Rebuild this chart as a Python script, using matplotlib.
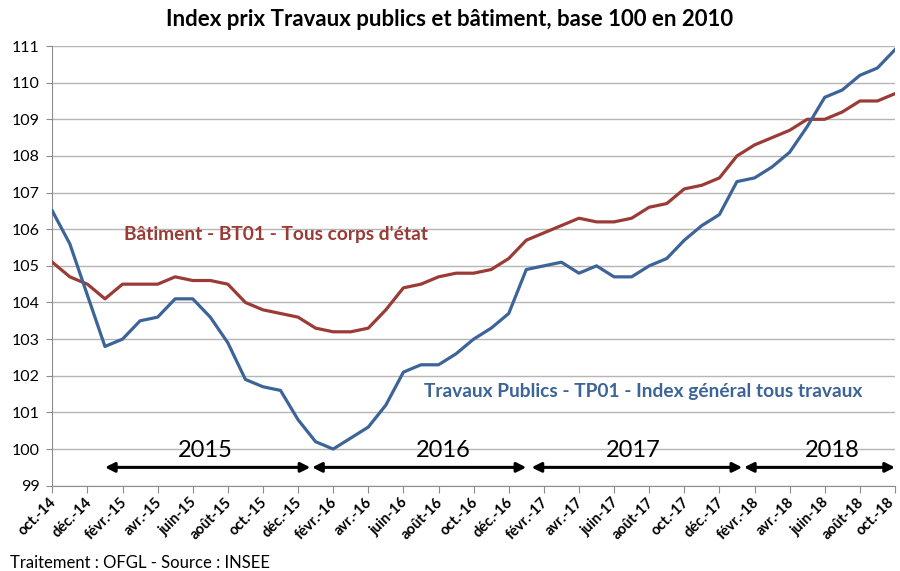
import matplotlib
matplotlib.use("Agg")
import matplotlib.pyplot as plt
from matplotlib.transforms import ScaledTranslation

plt.rcParams['font.family'] = ['Lato', 'DejaVu Sans']

months = ["oct.-14", "nov.-14", "déc.-14", "janv.-15", "févr.-15", "mars-15", "avr.-15", "mai-15",
          "juin-15", "juil.-15", "août-15", "sept.-15", "oct.-15", "nov.-15", "déc.-15",
          "janv.-16", "févr.-16", "mars-16", "avr.-16", "mai-16", "juin-16", "juil.-16", "août-16",
          "sept.-16", "oct.-16", "nov.-16", "déc.-16", "janv.-17", "févr.-17", "mars-17", "avr.-17",
          "mai-17", "juin-17", "juil.-17", "août-17", "sept.-17", "oct.-17", "nov.-17", "déc.-17",
          "janv.-18", "févr.-18", "mars-18", "avr.-18", "mai-18", "juin-18", "juil.-18", "août-18",
          "sept.-18", "oct.-18"]

tp01 = [106.5, 105.6, 104.2, 102.8, 103.0, 103.5, 103.6, 104.1, 104.1, 103.6, 102.9, 101.9,
        101.7, 101.6, 100.8, 100.2, 100.0, 100.3, 100.6, 101.2, 102.1, 102.3, 102.3, 102.6,
        103.0, 103.3, 103.7, 104.9, 105.0, 105.1, 104.8, 105.0, 104.7, 104.7, 105.0, 105.2,
        105.7, 106.1, 106.4, 107.3, 107.4, 107.7, 108.1, 108.8, 109.6, 109.8, 110.2, 110.4, 110.9]

bt01 = [105.1, 104.7, 104.5, 104.1, 104.5, 104.5, 104.5, 104.7, 104.6, 104.6, 104.5, 104.0,
        103.8, 103.7, 103.6, 103.3, 103.2, 103.2, 103.3, 103.8, 104.4, 104.5, 104.7, 104.8,
        104.8, 104.9, 105.2, 105.7, 105.9, 106.1, 106.3, 106.2, 106.2, 106.3, 106.6, 106.7,
        107.1, 107.2, 107.4, 108.0, 108.3, 108.5, 108.7, 109.0, 109.0, 109.2, 109.5, 109.5, 109.7]

years = ["2015", "2016", "2017", "2018"]
year_label_x = [8.7, 22.25, 33.1, 44.45]
year_span_start = [3.0, 14.8, 27.3, 39.4]
year_span_end = [14.7, 27.0, 39.3, 48.0]

RED = "#9B3B36"
BLUE = "#3C6499"

fig = plt.figure(figsize=(9, 5.71), dpi=100)
ax = fig.add_axes([0.0581, 0.1494, 0.9363, 0.77])

x = list(range(len(months)))
ax.plot(x, bt01, color=RED, lw=2.3, solid_joinstyle='round', zorder=3)
ax.plot(x, tp01, color=BLUE, lw=2.3, solid_joinstyle='round', zorder=3)

ax.set_xlim(0, len(months) - 1)
ax.set_ylim(99, 111)
ax.set_yticks(range(99, 112))
ax.yaxis.grid(True, color="#B5B5B5", lw=1.0)
ax.set_axisbelow(True)

ax.set_xticks(x[::2])
ax.set_xticklabels(months[::2], rotation=45, ha='right', rotation_mode='anchor',
                   fontsize=10.5, fontweight='bold')
ax.tick_params(axis='x', length=5, color="#8C8C8C", pad=2)
ax.tick_params(axis='y', length=4, color="#8C8C8C", labelsize=11.5, pad=5)
labels = ax.get_xticklabels()
for i, lbl in enumerate(labels):
    dx = -3 if i < len(labels) - 1 else -8
    lbl.set_transform(lbl.get_transform() + ScaledTranslation(dx / 100, 0, fig.dpi_scale_trans))

for s in ['top', 'right']:
    ax.spines[s].set_visible(False)
for s in ['left', 'bottom']:
    ax.spines[s].set_color("#8C8C8C")

for lab, lx, s, e in zip(years, year_label_x, year_span_start, year_span_end):
    ax.annotate("", xy=(e, 99.5), xytext=(s, 99.5),
                arrowprops=dict(arrowstyle='<|-|>', color='black', lw=2.2,
                                mutation_scale=14, shrinkA=0, shrinkB=0), zorder=4)
    ax.text(lx, 99.97, lab, ha='center', va='center', fontsize=17, color='black', zorder=4)

ax.text(4.1, 105.85, "Bâtiment - BT01 - Tous corps d'état", color=RED, fontsize=13.8,
        fontweight='bold', ha='left', va='center')
ax.text(21.2, 101.56, "Travaux Publics - TP01 - Index général tous travaux", color=BLUE,
        fontsize=13.8, fontweight='bold', ha='left', va='center')

fig.text(0.5, 0.965, "Index prix Travaux publics et bâtiment, base 100 en 2010", ha='center',
         va='center', fontsize=16, fontweight='bold')
fig.text(0.011, 0.014, "Traitement : OFGL - Source : INSEE", ha='left', va='center', fontsize=12)

fig.savefig("out.png", dpi=100)
